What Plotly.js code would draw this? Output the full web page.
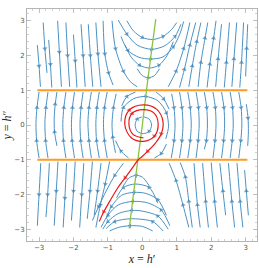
<!DOCTYPE html>
<html><head><meta charset="utf-8">
<script src="https://cdn.plot.ly/plotly-3.0.1.min.js"></script>
<style>html,body{margin:0;padding:0;background:#fff}#chart{width:259px;height:268px}</style>
</head><body><div id="chart"></div>
<script>
// ---- data (each streamline: flat [x,y,x,y,...] in flow order) ----
const streamsUpperLeft = [
  [-3.05,2.3, -3.0,1.7, -2.96,1.1],
  [-2.88,2.95, -2.83,2.2, -2.77,1.5],
  [-2.72,2.45, -2.67,1.75, -2.63,1.08],
  [-2.46,3.0, -2.41,2.1, -2.35,1.1],
  [-2.22,2.95, -2.17,2.0, -2.11,1.1],
  [-2.0,2.6, -1.95,1.85, -1.9,1.08],
  [-1.78,2.9, -1.72,2.0, -1.66,1.1],
  [-1.57,2.9, -1.51,2.0, -1.44,1.1],
  [-1.35,2.95, -1.29,2.05, -1.2,1.1],
  [-1.14,3.0, -1.09,2.05, -0.98,1.5, -0.85,1.15],
  [-0.88,3.0, -0.78,2.2, -0.55,1.55, -0.35,1.25, -0.15,1.1]
];
const streamsUpperMid = [
  [-0.45,3.0, -0.25,2.7, 0.0,2.52, 0.3,2.46, 0.6,2.55, 0.85,2.75, 1.0,2.95],
  [-0.7,3.02, -0.45,2.62, -0.15,2.3, 0.27,2.18, 0.65,2.28, 0.95,2.55, 1.12,2.9],
  [-0.62,2.55, -0.42,2.15, -0.1,1.95, 0.24,1.9, 0.6,1.96, 0.9,2.25, 1.1,2.65, 1.2,2.98],
  [-0.5,2.3, -0.32,1.95, -0.08,1.72, 0.2,1.64, 0.48,1.72, 0.72,2.0, 0.9,2.4],
  [-0.15,1.62, 0.0,1.42, 0.17,1.36, 0.35,1.42, 0.5,1.62]
];
const streamsUpperRight = [
  [0.75,1.1, 0.98,1.55, 1.2,2.2, 1.38,2.95],
  [1.08,1.08, 1.22,1.6, 1.38,2.3, 1.55,2.95],
  [1.35,1.1, 1.45,1.7, 1.58,2.4, 1.7,2.95],
  [1.62,1.1, 1.7,1.8, 1.82,2.5, 1.9,2.95],
  [1.88,1.08, 1.96,1.75, 2.07,2.5, 2.14,3.0],
  [2.13,1.1, 2.2,1.9, 2.3,2.9],
  [2.38,1.08, 2.44,1.8, 2.53,2.95],
  [2.6,1.1, 2.66,1.9, 2.74,2.95],
  [2.83,1.08, 2.88,1.8, 2.94,2.95],
  [3.0,1.4, 3.03,2.2, 3.06,2.9]
];
const streamsMidLeft = [
  [-3.0,-0.95, -3.07,-0.45, -3.09,0.05, -3.06,0.5, -3.0,0.95],
  [-2.74,-0.95, -2.81,-0.45, -2.83,0.05, -2.8,0.5, -2.74,0.95],
  [-2.48,-0.6, -2.55,-0.2, -2.56,0.2, -2.53,0.6, -2.48,0.95],
  [-2.22,-0.95, -2.29,-0.45, -2.31,0.05, -2.28,0.5, -2.22,0.95],
  [-1.97,-0.95, -2.04,-0.45, -2.06,0.05, -2.03,0.5, -1.97,0.95],
  [-1.72,-0.95, -1.79,-0.45, -1.81,0.05, -1.78,0.5, -1.72,0.95],
  [-1.48,-0.95, -1.55,-0.45, -1.58,0.05, -1.55,0.5, -1.48,0.95],
  [-1.25,-0.95, -1.33,-0.45, -1.35,0.05, -1.32,0.5, -1.25,0.95],
  [-1.02,-0.95, -1.1,-0.45, -1.13,0.05, -1.1,0.5, -1.02,0.95],
  [-0.78,-0.8, -0.86,-0.35, -0.88,0.05, -0.84,0.5, -0.76,0.9]
];
const streamsMidRight = [
  [0.85,0.9, 0.92,0.5, 0.95,0.0, 0.92,-0.45, 0.84,-0.95],
  [1.08,0.95, 1.15,0.5, 1.18,0.0, 1.15,-0.45, 1.08,-0.95],
  [1.32,0.95, 1.39,0.5, 1.42,0.0, 1.39,-0.45, 1.32,-0.95],
  [1.56,0.95, 1.63,0.5, 1.65,0.0, 1.62,-0.45, 1.56,-0.95],
  [1.8,0.95, 1.87,0.5, 1.89,0.0, 1.86,-0.45, 1.8,-0.7],
  [2.05,0.95, 2.12,0.5, 2.14,0.0, 2.11,-0.45, 2.05,-0.95],
  [2.3,0.95, 2.37,0.5, 2.39,0.0, 2.36,-0.45, 2.3,-0.95],
  [2.55,0.95, 2.62,0.5, 2.64,0.0, 2.61,-0.45, 2.55,-0.95],
  [2.8,0.95, 2.87,0.5, 2.89,0.0, 2.86,-0.45, 2.8,-0.95],
  [3.02,0.6, 3.07,0.2, 3.08,-0.2, 3.06,-0.6]
];
const streamsCenter = [
  [0.03,0.24, 0.2,0.17, 0.27,0.0, 0.2,-0.18, 0.03,-0.25, -0.15,-0.18, -0.21,0.0, -0.15,0.17, -0.02,0.23],
  [-0.62,0.1, -0.55,0.5, -0.25,0.76, 0.1,0.82, 0.45,0.7, 0.7,0.35, 0.76,-0.05, 0.68,-0.4],
  [-0.6,0.55, -0.45,0.82, -0.2,0.95],
  [0.4,0.95, 0.62,0.75, 0.78,0.45],
  [0.7,-0.55, 0.55,-0.82, 0.35,-0.95],
  [-0.4,-0.95, -0.62,-0.75, -0.78,-0.45]
];
const streamsLowerLeft = [
  [-2.95,-1.1, -3.0,-2.0, -3.05,-2.9],
  [-2.7,-1.1, -2.75,-2.0, -2.8,-2.65],
  [-2.45,-1.05, -2.5,-1.9, -2.56,-2.9],
  [-2.2,-1.1, -2.25,-2.1, -2.3,-2.95],
  [-1.95,-1.05, -2.0,-1.9, -2.06,-2.75],
  [-1.7,-1.1, -1.76,-2.0, -1.82,-2.95],
  [-1.45,-1.05, -1.52,-1.9, -1.6,-2.7],
  [-1.2,-1.1, -1.3,-1.9, -1.4,-2.6],
  [-0.95,-1.05, -1.08,-1.7, -1.22,-2.3, -1.35,-2.95],
  [-0.55,-1.1, -0.8,-1.45, -1.05,-1.9, -1.27,-2.35, -1.45,-2.75]
];
const streamsLowerMid = [
  [0.3,-3.05, 0.0,-2.92, -0.36,-2.9, -0.7,-2.95, -0.95,-3.05],
  [0.6,-3.05, 0.3,-2.78, -0.34,-2.7, -0.8,-2.78, -1.05,-2.98],
  [0.75,-3.0, 0.45,-2.62, 0.0,-2.48, -0.31,-2.46, -0.7,-2.55, -1.0,-2.78, -1.15,-3.0],
  [0.8,-2.9, 0.55,-2.45, 0.15,-2.24, -0.28,-2.2, -0.7,-2.3, -1.0,-2.6, -1.2,-2.95],
  [0.7,-2.6, 0.45,-2.15, 0.1,-1.97, -0.24,-1.94, -0.6,-2.02, -0.9,-2.35, -1.05,-2.7],
  [0.45,-2.25, 0.2,-1.8, -0.21,-1.7, -0.55,-1.8, -0.75,-2.1],
  [0.2,-1.75, 0.0,-1.5, -0.18,-1.45, -0.38,-1.52, -0.55,-1.75]
];
const streamsLowerRight = [
  [1.35,-2.95, 1.18,-2.3, 0.98,-1.6, 0.78,-1.1],
  [1.45,-2.95, 1.35,-2.2, 1.25,-1.5, 1.1,-1.08],
  [1.68,-2.95, 1.6,-2.3, 1.5,-1.1],
  [1.92,-2.95, 1.84,-2.2, 1.75,-1.1],
  [2.18,-2.95, 2.1,-2.2, 2.0,-1.08],
  [2.42,-2.6, 2.34,-1.9, 2.25,-1.1],
  [2.68,-2.95, 2.6,-2.2, 2.5,-1.1],
  [2.92,-2.95, 2.84,-2.2, 2.75,-1.1],
  [3.08,-2.6, 3.02,-1.9, 2.97,-1.3]
];
const redX = [0.03,-0.27,-0.39,-0.3,0.03,0.34,0.46,0.35,0.03,-0.33,-0.51,-0.38,0.03,0.42,0.6,0.55,0.38,0.15,-0.02,-0.12,-0.3,-0.5,-0.72,-0.95,-1.12,-1.25];
const redY = [-0.37,-0.27,0.03,0.33,0.44,0.34,0.03,-0.32,-0.47,-0.36,0.03,0.43,0.58,0.45,0.1,-0.25,-0.52,-0.76,-0.92,-1.0,-1.25,-1.52,-1.82,-2.2,-2.5,-2.78];
const redArrowIdx = [3,7,11,15,17,21,24];
const greenX = [-0.38,-0.26,-0.13,0.0,0.12,0.25,0.39];
const greenY = [-2.98,-2.0,-1.0,0.0,1.0,2.0,3.05];
const orangeLevels = [1, -1];
const orangeSpan = [-3.05, 3.05];
const tickVals = [-3,-2,-1,0,1,2,3];
const tickText = ['\u22123','\u22122','\u22121','0','1','2','3'];

// ---- build traces ----
const BLUE = '#4b92c4';
function streamTrace(groups){
  const xs=[], ys=[], sz=[];
  groups.forEach(g=>g.forEach(line=>{
    const n=line.length/2; let acc=0, next=0.4, any=false; const s=[];
    for(let i=0;i<n;i++){
      if(i>0){acc+=Math.hypot(line[2*i]-line[2*i-2], line[2*i+1]-line[2*i-1]);}
      let a=0;
      if(i>0 && i<n-1 && acc>=next){a=4.5; any=true; while(next<=acc) next+=0.75;}
      s.push(a);
    }
    if(!any && n>2) s[Math.floor(n/2)]=4.5;
    for(let i=0;i<n;i++){xs.push(line[2*i]); ys.push(line[2*i+1]); sz.push(s[i]);}
    xs.push(null); ys.push(null); sz.push(0);
  }));
  return {x:xs,y:ys,type:'scatter',mode:'lines+markers',hoverinfo:'skip',
    line:{color:BLUE,width:1,shape:'spline',smoothing:0.8},
    marker:{symbol:'triangle-up',size:sz,color:'#3a80b4',angleref:'previous',line:{width:0}}};
}
const traces=[streamTrace([streamsUpperLeft,streamsUpperMid,streamsUpperRight,streamsMidLeft,streamsMidRight,streamsCenter,streamsLowerLeft,streamsLowerMid,streamsLowerRight])];
orangeLevels.forEach(v=>traces.push({x:orangeSpan,y:[v,v],type:'scatter',mode:'lines',hoverinfo:'skip',line:{color:'#ff9a22',width:1.8}}));
traces.push({x:greenX,y:greenY,type:'scatter',mode:'lines',hoverinfo:'skip',line:{color:'#86c440',width:1.3,shape:'spline'}});
traces.push({x:redX,y:redY,type:'scatter',mode:'lines+markers',hoverinfo:'skip',
  line:{color:'#e81818',width:1.2,shape:'spline',smoothing:1},
  marker:{symbol:'triangle-up',angleref:'previous',color:'#e81818',size:redX.map((_,i)=>redArrowIdx.includes(i)?4.5:0),line:{width:0}}});

const axisCommon={showgrid:false,zeroline:false,showline:true,linecolor:'#b5b5b5',linewidth:1,mirror:'ticks',
  ticks:'inside',ticklen:4,tickcolor:'#b5b5b5',tickwidth:0.8,tickvals:tickVals,ticktext:tickText,
  tickfont:{family:'DejaVu Sans',size:7,color:'#555'},
  minor:{ticks:'inside',ticklen:2,tickcolor:'#c5c5c5',dtick:0.2,tick0:0,showgrid:false}};
const layout={width:259,height:268,margin:{l:27,r:2,t:9,b:27},showlegend:false,
  paper_bgcolor:'#fff',plot_bgcolor:'#fff',
  xaxis:Object.assign({},axisCommon,{range:[-3.35,3.33],
    title:{text:'<i>x</i> = <i>h</i>\u2032',font:{family:'Liberation Serif',size:12,color:'#222'},standoff:2}}),
  yaxis:Object.assign({},axisCommon,{range:[-3.34,3.34],
    title:{text:'<i>y</i> = <i>h</i>\u2033',font:{family:'Liberation Serif',size:12,color:'#222'},standoff:2}})};
Plotly.newPlot('chart',traces,layout,{staticPlot:true,displayModeBar:false});
</script></body></html>
